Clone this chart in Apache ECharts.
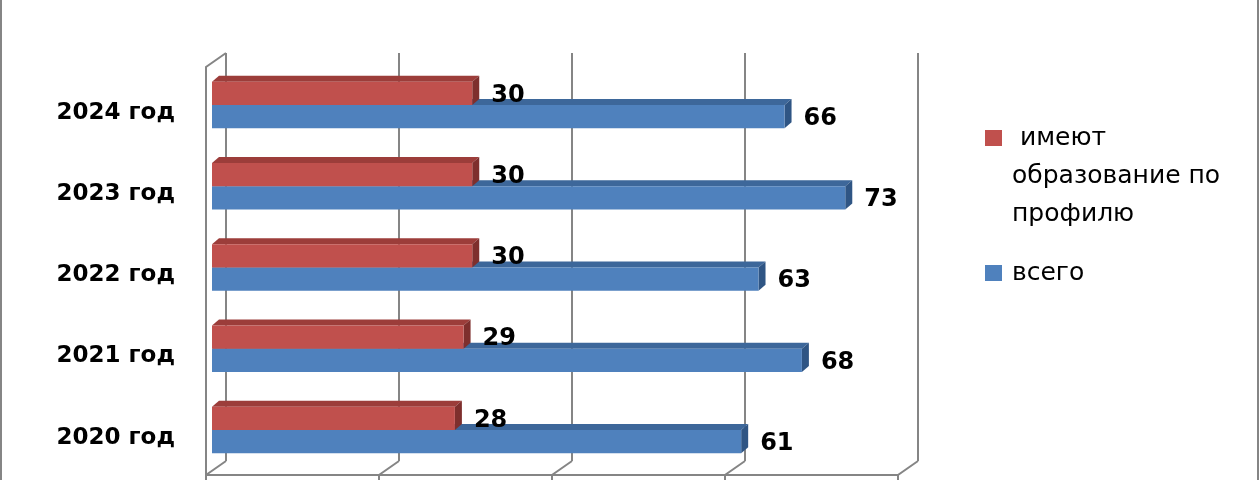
<!DOCTYPE html>
<html>
<head>
<meta charset="utf-8">
<script src="https://cdn.jsdelivr.net/npm/echarts@6/dist/echarts.min.js"></script>
<style>
html,body{margin:0;padding:0;background:#fff;}
#chart{width:1260px;height:480px;}
</style>
</head>
<body>
<div id="chart"></div>
<script>
const categories = ['2020 год', '2021 год', '2022 год', '2023 год', '2024 год'];
const profileValues = [28, 29, 30, 30, 30];
const totalValues = [61, 68, 63, 73, 66];
const seriesNames = [' имеют\nобразование по\nпрофилю', 'всего'];
const gridTicks = [0, 20, 40, 60, 80];

const chart = echarts.init(document.getElementById('chart'), null, {renderer: 'canvas'});

const DX = 7, DY = -6;
function bar3D(side, front, top, sideCol) {
  return function (params, api) {
    const v = api.value(0), c = api.value(1);
    const end = api.coord([v, c]);
    const start = api.coord([0, c]);
    const band = api.size([0, 1])[1];
    const h = band * 0.285;
    const y0 = side < 0 ? end[1] - h : end[1];
    const x0 = start[0], x1 = end[0];
    return {
      type: 'group',
      children: [
        {type: 'polygon', shape: {points: [[x0, y0], [x0 + DX, y0 + DY], [x1 + DX, y0 + DY], [x1, y0]]}, style: {fill: top}},
        {type: 'polygon', shape: {points: [[x1, y0], [x1 + DX, y0 + DY], [x1 + DX, y0 + h + DY], [x1, y0 + h]]}, style: {fill: sideCol}},
        {type: 'rect', shape: {x: x0, y: y0, width: x1 - x0, height: h}, style: {fill: front}},
        {type: 'text', style: {text: String(v), x: x1 + 19, y: y0 + h / 2 + 2, fill: '#000',
          font: 'bold 24px "DejaVu Sans"', align: 'left', verticalAlign: 'middle'}}
      ]
    };
  };
}

const FX = -20, FY = 14;
function wallRender(params, api) {
  const v = api.value(0);
  const b = api.coord([v, 0]);
  const fx = b[0] + FX, fy = b[1] + FY;
  const lineStyle = {stroke: '#858585', lineWidth: 2, fill: null};
  const children = [
    {type: 'polyline', shape: {points: [[b[0], b[1]], [fx, fy], [fx, fy + 8]]}, style: lineStyle}
  ];
  if (params.dataIndex === 0) {
    const t = api.coord([v, 1]);
    const last = api.coord([gridTicks[gridTicks.length - 1], 0]);
    children.push({type: 'polyline', shape: {points: [[t[0], t[1]], [t[0] + FX, t[1] + FY], [fx, fy]]}, style: lineStyle});
    children.push({type: 'line', shape: {x1: fx, y1: fy, x2: last[0] + FX, y2: last[1] + FY}, style: lineStyle});
  }
  return {type: 'group', children: children};
}

const option = {
  backgroundColor: '#ffffff',
  animation: false,
  graphic: [{
    type: 'rect', shape: {x: 1, y: -10, width: 1257, height: 500},
    style: {fill: null, stroke: '#858585', lineWidth: 2}, silent: true
  }],
  legend: [{
    data: [seriesNames[0]],
    left: 985, top: 119, padding: 0, orient: 'vertical',
    icon: 'path://M0,0L17,0L17,16L0,16Z M0,92L17,92', itemWidth: 17, itemHeight: 92,
    textStyle: {fontFamily: 'DejaVu Sans', fontSize: 25, color: '#000', lineHeight: 38, padding: [0, 0, 0, 5]}
  }, {
    data: [seriesNames[1]],
    left: 985, top: 254, padding: 0, orient: 'vertical',
    icon: 'rect', itemWidth: 17, itemHeight: 16,
    textStyle: {fontFamily: 'DejaVu Sans', fontSize: 25, color: '#000', lineHeight: 38, padding: [0, 0, 0, 5]}
  }],
  grid: [
    {left: 212, top: 64.4, width: 694, height: 406.25, containLabel: false},
    {left: 226, top: 53, width: 692, height: 408, containLabel: false},
    {left: 212, top: 72, width: 694, height: 406.25, containLabel: false}
  ],
  xAxis: [
    {type: 'value', gridIndex: 0, min: 0, max: 80, interval: 20, show: false},
    {type: 'value', gridIndex: 1, min: 0, max: 80, interval: 20,
      axisLine: {show: false}, axisTick: {show: false}, axisLabel: {show: false},
      splitLine: {show: true, lineStyle: {color: '#858585', width: 2}}},
    {type: 'value', gridIndex: 2, min: 0, max: 80, interval: 20, show: false}
  ],
  yAxis: [
    {type: 'category', gridIndex: 0, data: categories, show: false},
    {type: 'value', gridIndex: 1, min: 0, max: 1, show: false},
    {type: 'category', gridIndex: 2, data: categories,
      axisLine: {show: false}, axisTick: {show: false}, splitLine: {show: false},
      axisLabel: {margin: 37, fontFamily: 'DejaVu Sans', fontWeight: 'bold', fontSize: 23, color: '#000'}}
  ],
  series: [
    {
      name: seriesNames[0], type: 'custom', xAxisIndex: 0, yAxisIndex: 0, z: 4,
      itemStyle: {color: '#C0504D'},
      renderItem: bar3D(-1, '#C0504D', '#9C3D3A', '#7E2F2D'),
      encode: {x: 0, y: 1},
      data: profileValues.map((v, i) => [v, i])
    },
    {
      name: seriesNames[1], type: 'custom', xAxisIndex: 0, yAxisIndex: 0, z: 3,
      itemStyle: {color: '#4F81BD'},
      renderItem: bar3D(1, '#4F81BD', '#3D679A', '#2F5584'),
      encode: {x: 0, y: 1},
      data: totalValues.map((v, i) => [v, i])
    },
    {
      name: 'walls', type: 'custom', xAxisIndex: 1, yAxisIndex: 1, z: 1, silent: true,
      renderItem: wallRender,
      encode: {x: 0},
      data: gridTicks.map(v => [v])
    }
  ]
};
chart.setOption(option);
</script>
</body>
</html>
